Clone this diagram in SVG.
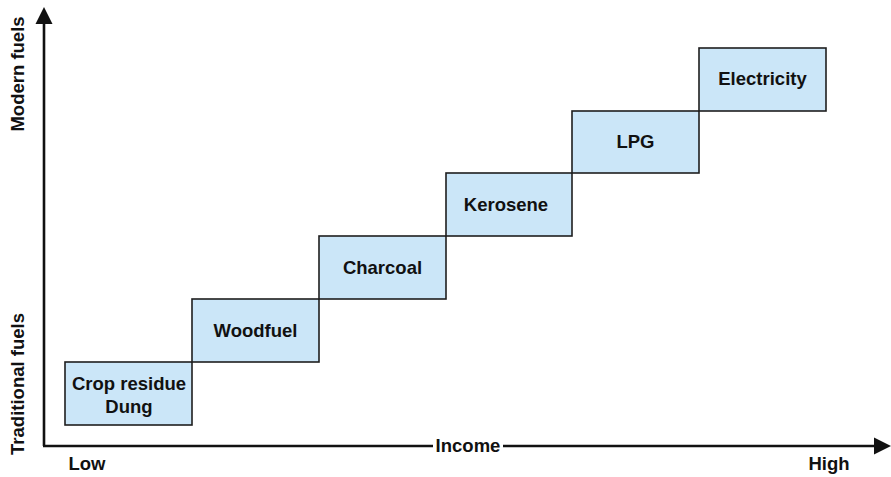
<svg xmlns="http://www.w3.org/2000/svg" width="891" height="477" viewBox="0 0 891 477">
<style>
.box{fill:#cbe6f8;stroke:#1e1e1e;stroke-width:1.6}
.lbl{font-family:"Liberation Sans",Arial,sans-serif;font-weight:bold;font-size:18.5px;fill:#111;text-anchor:middle}
.axis{stroke:#111;stroke-width:2.6;fill:none}
.head{fill:#111}
</style>
<rect width="891" height="477" fill="#fff"/>
<g id="connectors">
<line class="axis" x1="44" y1="446" x2="44" y2="20"/>
<polygon class="head" points="44,7 35.5,24 52.5,24"/>
<line class="axis" x1="43" y1="446" x2="433" y2="446"/>
<line class="axis" x1="503" y1="446" x2="878" y2="446"/>
<polygon class="head" points="891,446 874,437.5 874,454.5"/>
</g>
<g id="axis-labels">
<text class="lbl" transform="translate(24,74) rotate(-90)">Modern fuels</text>
<text class="lbl" transform="translate(24,384) rotate(-90)">Traditional fuels</text>
<text class="lbl" x="468" y="452">Income</text>
<text class="lbl" x="87" y="470">Low</text>
<text class="lbl" x="829" y="470">High</text>
</g>
<g id="crop-residue">
<rect class="box" x="65" y="362" width="127" height="63"/>
<text class="lbl" x="129" y="390">Crop residue</text>
<text class="lbl" x="129" y="413">Dung</text>
</g>
<g id="woodfuel">
<rect class="box" x="192" y="299" width="127" height="63"/>
<text class="lbl" x="255.5" y="337">Woodfuel</text>
</g>
<g id="charcoal">
<rect class="box" x="319" y="236" width="127" height="63"/>
<text class="lbl" x="382.5" y="274">Charcoal</text>
</g>
<g id="kerosene">
<rect class="box" x="446" y="173" width="126" height="63"/>
<text class="lbl" x="506" y="211">Kerosene</text>
</g>
<g id="lpg">
<rect class="box" x="572" y="111" width="127" height="62"/>
<text class="lbl" x="635.5" y="148">LPG</text>
</g>
<g id="electricity">
<rect class="box" x="699" y="48" width="127" height="63"/>
<text class="lbl" x="762.5" y="85">Electricity</text>
</g>
</svg>
